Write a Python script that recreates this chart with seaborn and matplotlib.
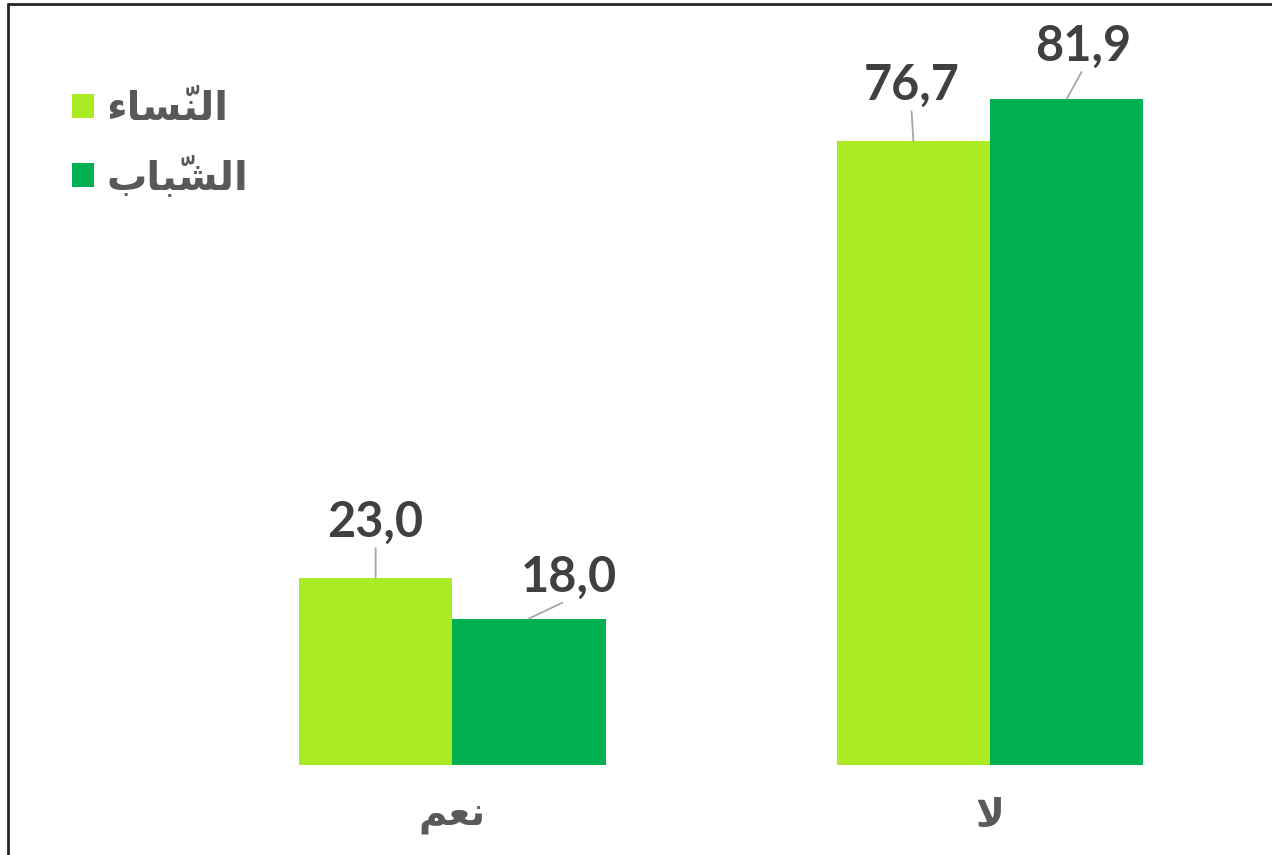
import matplotlib
matplotlib.use("Agg")
import matplotlib.pyplot as plt
import pandas as pd
import seaborn as sns
from matplotlib.lines import Line2D
from matplotlib.patches import Patch

# Dados do gráfico
categorias = ["نعم", "لا"]
series = ["النّساء", "الشّباب"]
valores_nisa = [23.0, 76.7]
valores_shabab = [18.0, 81.9]
cores = ["#AAEB23", "#00B050"]

# Deslocamento (pontos) dos rótulos em relação ao topo de cada barra
deslocamentos = [(0, 40), (29, 30), (-1.5, 40), (12, 38)]

# Formas de apresentação: isolada, final, inicial, medial
FORMAS = {
    "ا": ("\uFE8D", "\uFE8E", None, None),
    "ء": ("\uFE80", None, None, None),
    "ب": ("\uFE8F", "\uFE90", "\uFE91", "\uFE92"),
    "س": ("\uFEB1", "\uFEB2", "\uFEB3", "\uFEB4"),
    "ش": ("\uFEB5", "\uFEB6", "\uFEB7", "\uFEB8"),
    "ع": ("\uFEC9", "\uFECA", "\uFECB", "\uFECC"),
    "ل": ("\uFEDD", "\uFEDE", "\uFEDF", "\uFEE0"),
    "م": ("\uFEE1", "\uFEE2", "\uFEE3", "\uFEE4"),
    "ن": ("\uFEE5", "\uFEE6", "\uFEE7", "\uFEE8"),
    "لا": ("\uFEFB", "\uFEFC", None, None),
}
MARCAS = {"\u0651"}


def arabe(texto):
    """Junção contextual simples + ordem visual (matplotlib não faz shaping)."""
    tokens = []
    for ch in texto:
        if ch in MARCAS and tokens:
            tokens[-1][1] += ch
        elif ch == "ا" and tokens and tokens[-1][0] == "ل":
            tokens[-1][0] = "لا"
        else:
            tokens.append([ch, ""])
    saida = []
    for i, (letra, marcas) in enumerate(tokens):
        f = FORMAS.get(letra)
        if f is None:
            saida.append(marcas + letra)
            continue
        antes = i > 0 and FORMAS.get(tokens[i - 1][0], (0, 0, None))[2] is not None and f[1] is not None
        depois = (i < len(tokens) - 1 and f[2] is not None
                  and FORMAS.get(tokens[i + 1][0], (0, None))[1] is not None)
        if antes and depois:
            g = f[3]
        elif antes:
            g = f[1]
        elif depois:
            g = f[2]
        else:
            g = f[0]
        # a marca tem avanço zero: vem antes da letra na ordem visual
        saida.append(marcas + g)
    return "".join(reversed(saida))


df = pd.DataFrame({
    "categoria": categorias * 2,
    "serie": [series[0]] * 2 + [series[1]] * 2,
    "valor": valores_nisa + valores_shabab,
})

sns.set_style("white")
plt.rcParams["font.family"] = ["DejaVu Sans"]

fig = plt.figure(figsize=(12.72, 8.55), dpi=100)
ax = fig.add_axes([22 / 1272, 90 / 855, 1237 / 1272, 745 / 855])

sns.barplot(data=df, x="categoria", y="valor", hue="serie",
            order=categorias, hue_order=series, palette=cores,
            width=0.57, saturation=1, linewidth=0, legend=False, ax=ax)

ax.set_xlim(-0.8, 1.5)
ax.set_ylim(0, 91.6)
sns.despine(ax=ax, left=True, bottom=True)
ax.set_yticks([])
ax.set_xlabel("")
ax.set_ylabel("")
ax.set_xticks(range(len(categorias)))
ax.set_xticklabels([arabe(c) for c in categorias], fontsize=28,
                   fontweight="bold", color="#595959")
ax.tick_params(axis="x", length=0, pad=23)

# Rótulos de valor com linhas de chamada
barras = sorted(ax.patches, key=lambda p: p.get_x())
for barra, (dx, dy) in zip(barras, deslocamentos):
    x = barra.get_x() + barra.get_width() / 2
    y = barra.get_height()
    ax.annotate(f"{y:.1f}".replace(".", ","), xy=(x, y), xytext=(dx, dy),
                textcoords="offset points", ha="center", va="center",
                fontsize=35, fontweight="bold", color="#404040",
                family=["Lato", "DejaVu Sans"],
                arrowprops=dict(arrowstyle="-", color="#A6A6A6", lw=1.3,
                                relpos=(0.5, 0), shrinkA=0, shrinkB=0))

handles = [Patch(facecolor=c, edgecolor="none") for c in cores]
ax.legend(handles, [arabe(s) for s in series], loc="upper left",
          bbox_to_anchor=(72 / 1272, 1 - 89 / 855), bbox_transform=fig.transFigure,
          frameon=False, borderpad=0, borderaxespad=0,
          prop={"size": 29, "weight": "bold"}, labelcolor="#595959",
          handlelength=0.55, handleheight=0.55, handletextpad=0.3,
          labelspacing=0.68)

# Moldura (topo e esquerda)
fig.add_artist(Line2D([8 / 1272, 1], [1 - 4 / 855] * 2, transform=fig.transFigure,
                      color="#262626", lw=2))
fig.add_artist(Line2D([8 / 1272] * 2, [0, 1 - 4 / 855], transform=fig.transFigure,
                      color="#262626", lw=2))

fig.savefig("out.png", dpi=100)
